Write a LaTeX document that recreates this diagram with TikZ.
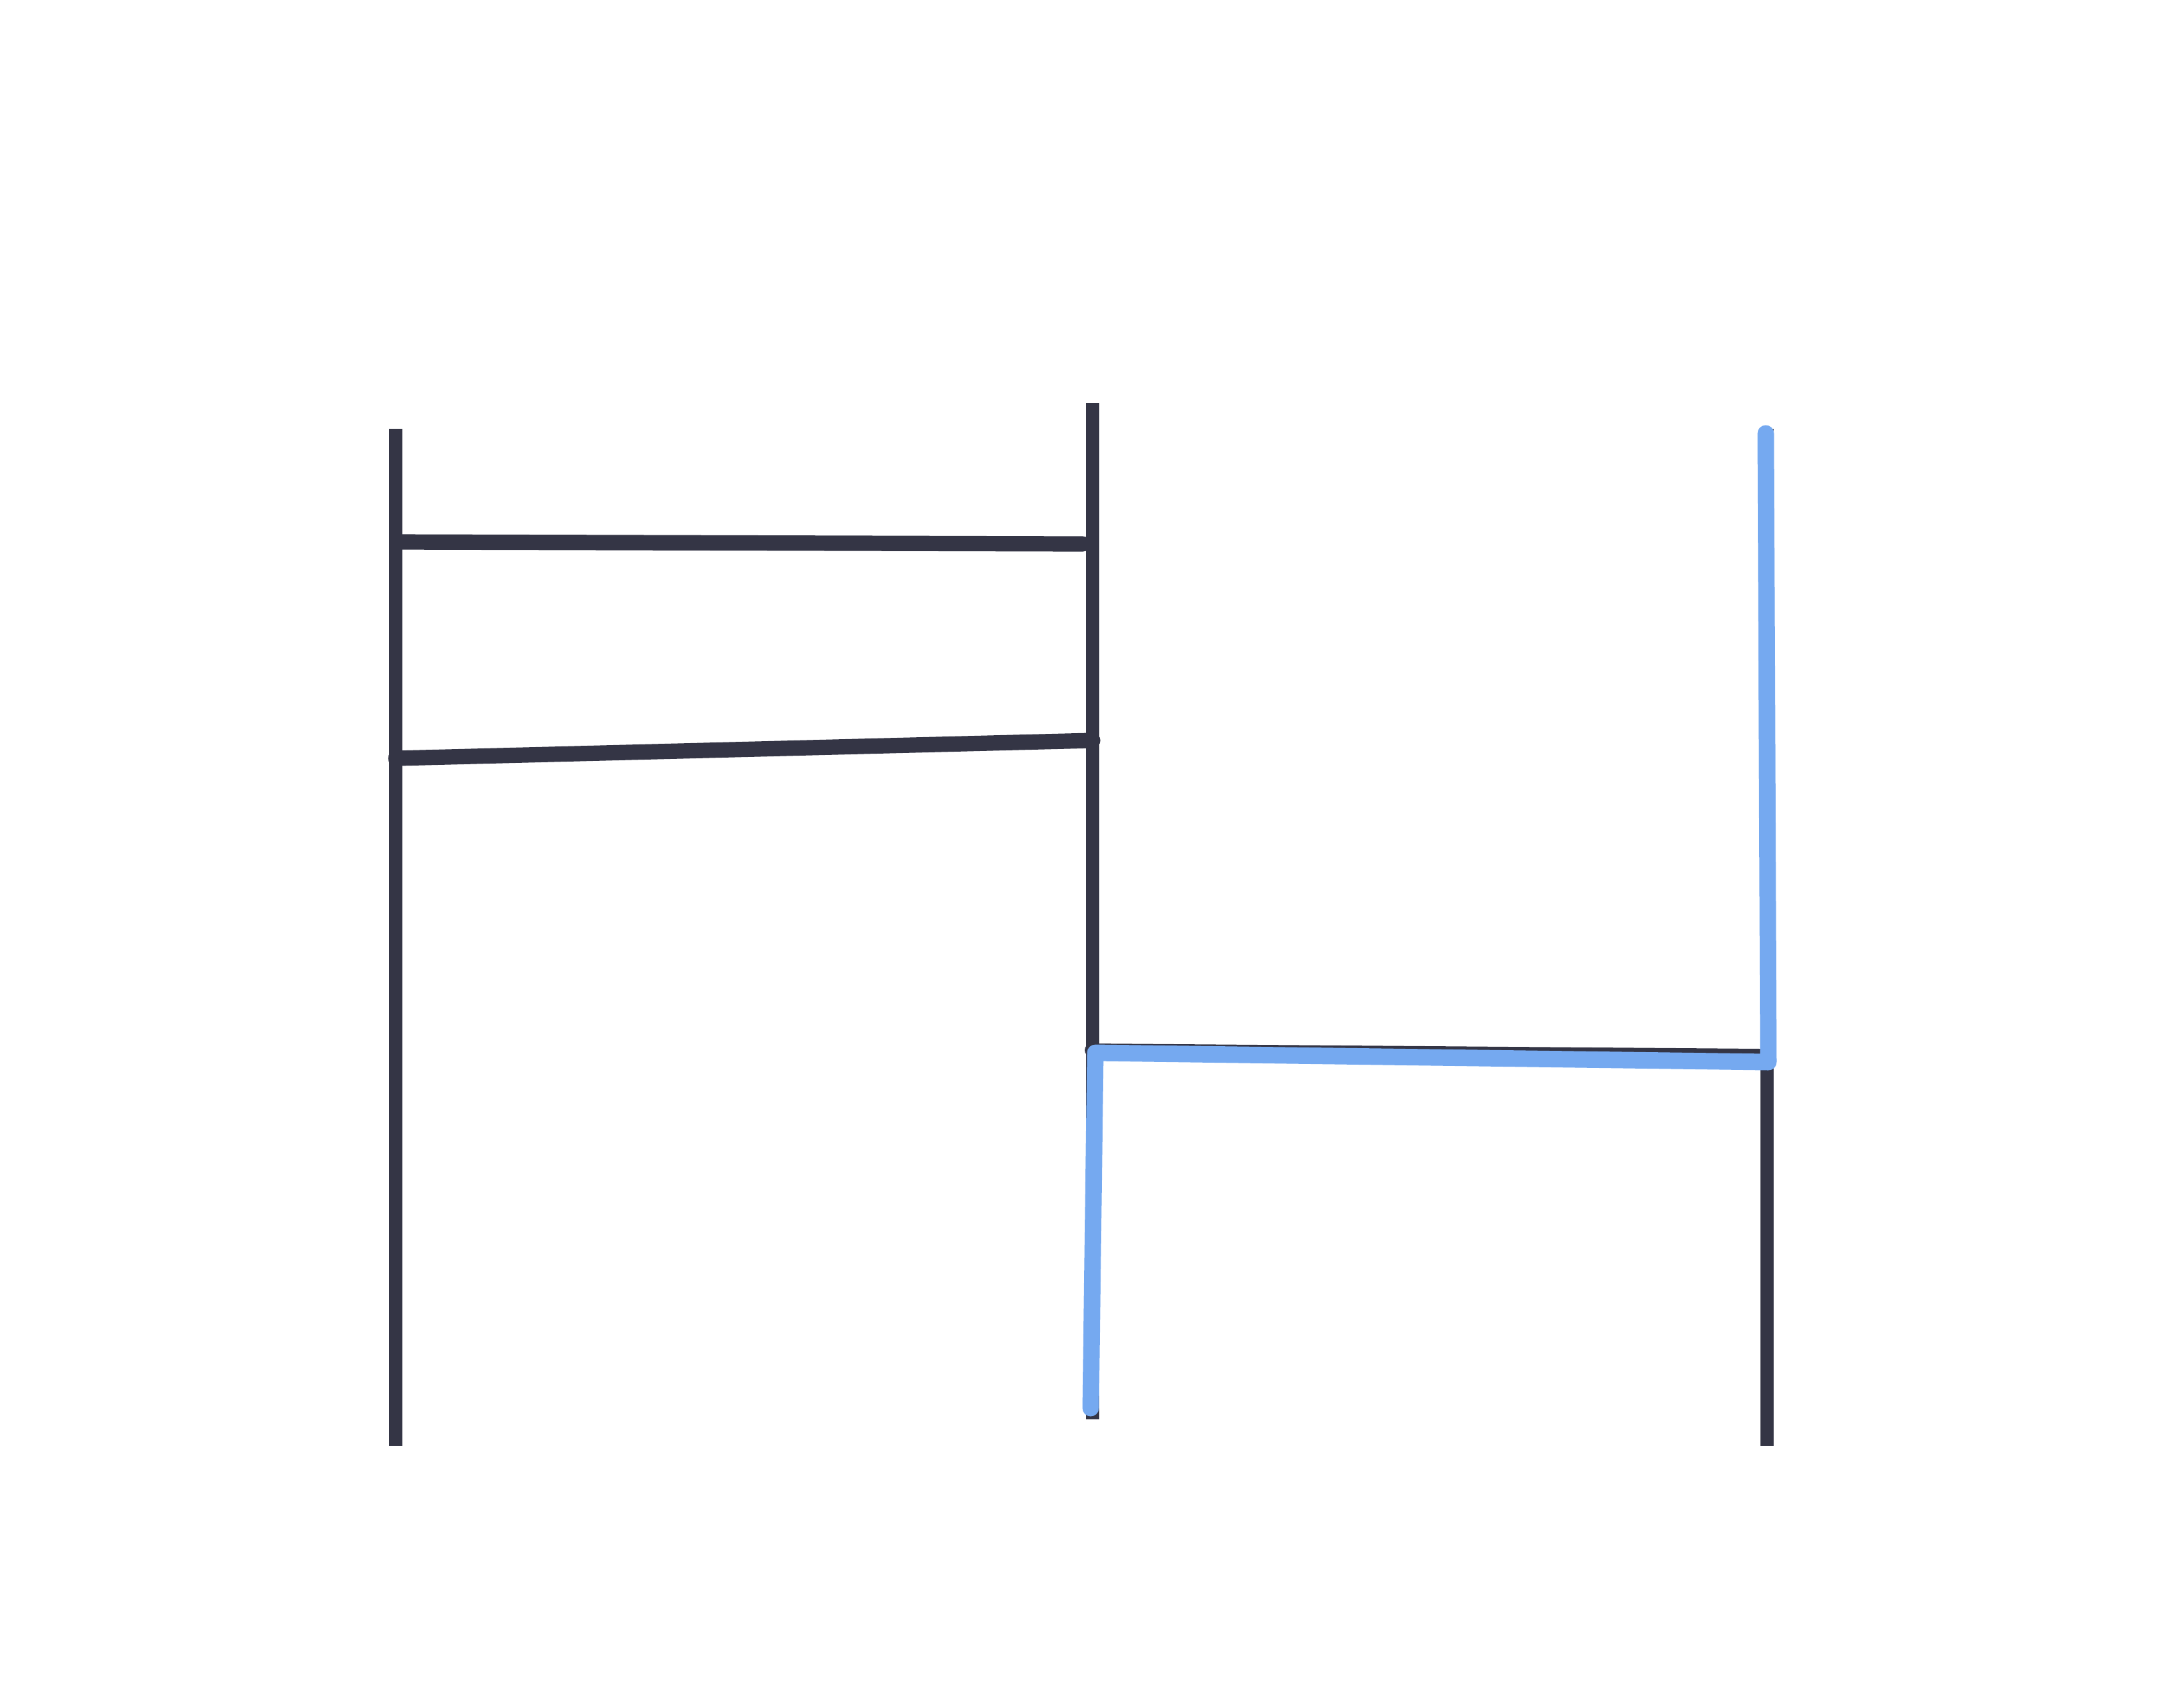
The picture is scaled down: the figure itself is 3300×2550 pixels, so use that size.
\documentclass[tikz,border=0pt]{standalone}
\usepackage{tikz}
\usepackage{xcolor}
\definecolor{ink}{RGB}{52,53,69}
\definecolor{pick}{RGB}{117,169,240}

\begin{document}
\begin{tikzpicture}[x=0.01cm, y=-0.01cm,
    pole/.style={draw=ink, line width=5.7pt},
    rung/.style={draw=ink, line width=6.6pt, line cap=round},
    route/.style={draw=pick, line width=7.1pt, line cap=round, line join=round}]
  \useasboundingbox (0,0) rectangle (3300,2550);
  % vertical lines
  \coordinate (L1) at (598,648);
  \coordinate (L2) at (598,2185);
  \coordinate (M1) at (1651,609);
  \coordinate (M2) at (1651,2145);
  \coordinate (R1) at (2670,648);
  \coordinate (R2) at (2670,2185);
  \draw[pole] (L1) -- (L2);
  \draw[pole] (M1) -- (M2);
  \draw[pole] (R1) -- (R2);
  % rungs
  \coordinate (A1) at (600,819);
  \coordinate (B1) at (1636,822);
  \coordinate (A2) at (598,1146);
  \coordinate (B2) at (1651,1119);
  \coordinate (A3) at (1649,1587);
  \coordinate (B3) at (2660,1595);
  \draw[rung] (A1) -- (B1);
  \draw[rung] (A2) -- (B2);
  \draw[rung, line width=5.7pt] (A3) -- (B3);
  % highlighted route
  \coordinate (P1) at (2668,655);
  \coordinate (P2) at (2672,1605);
  \coordinate (P3) at (1655,1591);
  \coordinate (P4) at (1648,2128);
  \draw[route] (P1) -- (P2) -- (P3) -- (P4);
\end{tikzpicture}
\end{document}
